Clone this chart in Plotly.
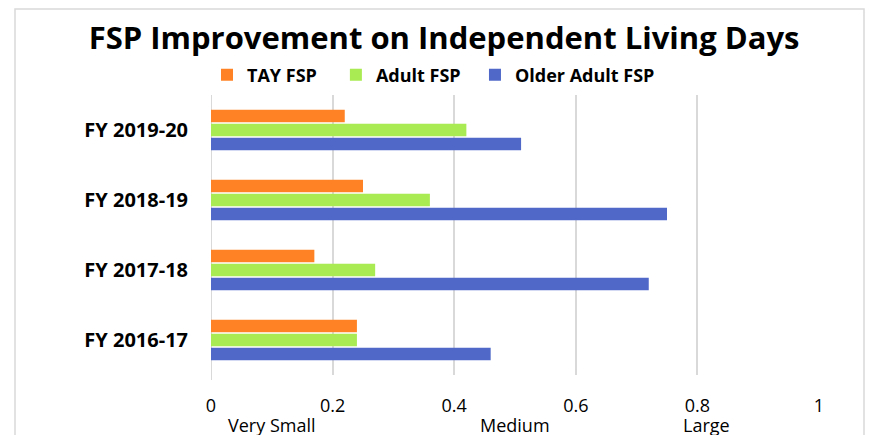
import plotly.graph_objects as go

# Fiscal years (top to bottom) and improvement scores per FSP program
years = ["FY 2019-20", "FY 2018-19", "FY 2017-18", "FY 2016-17"]
tay_fsp = [0.22, 0.25, 0.17, 0.24]
adult_fsp = [0.42, 0.36, 0.27, 0.24]
older_adult_fsp = [0.51, 0.75, 0.72, 0.46]

tick_vals = [0, 0.2, 0.4, 0.6, 0.8, 1]
effect_labels = [("Very Small", 0.1), ("Medium", 0.5), ("Large", 0.815)]

FONT = "Open Sans"
NBSP = "\u00a0"

fig = go.Figure()
# (name, values, colour, trailing padding in the legend)
for name, vals, color, pad in [
    ("TAY FSP", tay_fsp, "#FF8325", 3),
    ("Adult FSP", adult_fsp, "#A9EB52", 2),
    ("Older Adult FSP", older_adult_fsp, "#5069C9", 0),
]:
    fig.add_trace(go.Bar(
        y=years, x=vals, name=f"<b>{name}</b>" + NBSP * pad, orientation="h",
        marker=dict(color=color, line=dict(width=0)),
    ))

W, H = 869, 435
L, R, T, B = 211, 50, 95, 60
pw, ph = W - L - R, H - T - B

fig.update_layout(
    width=W, height=H,
    margin=dict(l=L, r=R, t=T, b=B),
    paper_bgcolor="white", plot_bgcolor="white",
    barmode="group", bargap=0.4, bargroupgap=0.12,
    font=dict(family=FONT, color="black"),
    title=dict(
        text="<b>FSP Improvement on Independent Living Days</b>",
        x=0.511, xanchor="center", y=1 - 38 / H, yanchor="middle",
        font=dict(size=31, family=FONT, color="black"),
    ),
    legend=dict(
        orientation="h", x=(207 - L) / pw, xanchor="left",
        y=1 + (T - 75) / ph, yanchor="middle",
        font=dict(size=18, family=FONT, color="black"),
        itemwidth=30, tracegroupgap=0,
    ),
    showlegend=True,
)

fig.update_xaxes(
    range=[0, 1], tickvals=tick_vals, ticktext=[f"{v:g}" for v in tick_vals],
    showgrid=True, gridcolor="#D9D9D9", gridwidth=2,
    zeroline=False, showline=False,
    tickfont=dict(size=18, family=FONT, color="black"),
    ticks="", ticklabelstandoff=18,
)
fig.update_yaxes(
    autorange="reversed", showgrid=False, zeroline=False,
    tickvals=years, ticktext=[f"<b>{y}</b>" for y in years],
    tickfont=dict(size=20, family=FONT, color="black"),
    ticks="", ticklabelstandoff=22,
)

# left baseline at zero
fig.add_shape(type="line", xref="x", yref="paper", x0=0, x1=0, y0=-5 / ph, y1=1,
              line=dict(color="#D9D9D9", width=2), layer="below")

# outer chart frame
fig.add_shape(type="rect", xref="paper", yref="paper",
              x0=(15 - L) / pw, x1=(864 - L) / pw,
              y0=-0.5, y1=1 + (T - 9) / ph,
              line=dict(color="#D9D9D9", width=1.5))

for text, xv in effect_labels:
    fig.add_annotation(
        text=text, x=xv, xref="x", y=-(425 - (T + ph)) / ph, yref="paper",
        showarrow=False, xanchor="center", yanchor="middle",
        font=dict(size=18, family=FONT, color="black"),
    )

fig.write_html("out.html")
